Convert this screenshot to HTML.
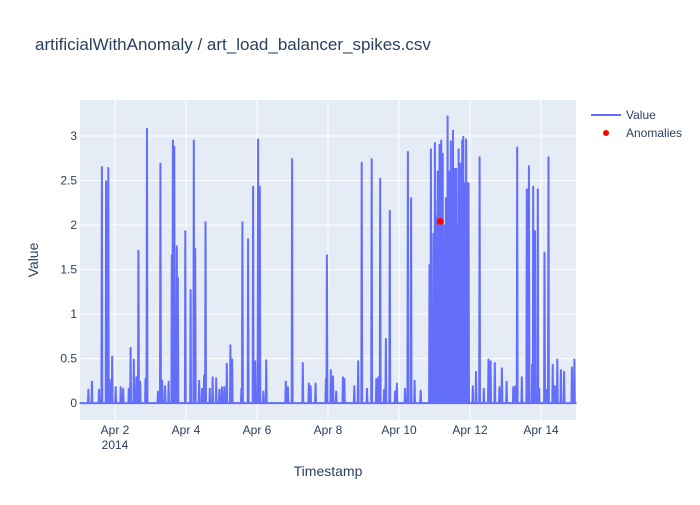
<!DOCTYPE html>
<html><head><meta charset="utf-8"><style>
body{margin:0;background:#fff;font-family:"Liberation Sans",Arial,sans-serif}
svg text{font-family:"Liberation Sans",Arial,sans-serif}
</style></head><body>
<svg id="chart" width="700" height="500" xmlns="http://www.w3.org/2000/svg">
<rect width="700" height="500" fill="#fff"/>
<text x="35" y="50" font-size="17" fill="#2a3f5f">artificialWithAnomaly / art_load_balancer_spikes.csv</text>
<rect x="80" y="100" width="496" height="320" fill="#e5ecf6"/>
<g id="grid"></g>
<g id="series"></g>
<g id="anom"></g>
<g id="ticks"></g>
<text x="328" y="476" font-size="14" fill="#2a3f5f" text-anchor="middle">Timestamp</text>
<text x="38" y="260" font-size="14" fill="#2a3f5f" text-anchor="middle" transform="rotate(-90 38 260)">Value</text>
<g>
<g><line x1="591" y1="115" x2="621" y2="115" stroke="#636efa" stroke-width="2"/><text x="626" y="119" font-size="12" fill="#2a3f5f">Value</text></g>
<g><circle cx="606" cy="133" r="3" fill="red"/><text x="626" y="137" font-size="12" fill="#2a3f5f">Anomalies</text></g>
</g>
</svg>
<script>
const spikeDays=[0.25,0.35,0.55,0.63,0.75,0.81,0.85,0.92,1.02,1.16,1.23,1.39,1.44,1.53,1.6,1.66,1.71,1.86,1.9,2.21,2.28,2.33,2.41,2.51,2.6,2.63,2.67,2.71,2.74,2.77,2.98,3.13,3.22,3.26,3.37,3.45,3.51,3.55,3.67,3.75,3.85,3.94,4.01,4.08,4.15,4.25,4.3,4.56,4.59,4.75,4.89,4.95,5.03,5.08,5.18,5.26,5.81,5.87,5.99,6.29,6.46,6.51,6.65,6.94,6.97,7.08,7.14,7.23,7.42,7.46,7.74,7.85,7.95,8.1,8.23,8.36,8.42,8.47,8.58,8.63,8.74,8.89,8.94,9.17,9.25,9.34,9.44,9.61,9.86,9.9,9.94,9.97,10.01,10.02,10.05,10.09,10.11,10.14,10.17,10.19,10.21,10.23,10.26,10.29,10.32,10.35,10.37,10.4,10.42,10.44,10.46,10.49,10.52,10.55,10.57,10.59,10.61,10.64,10.68,10.7,10.73,10.76,10.78,10.81,10.84,10.87,10.89,10.92,10.96,11.08,11.17,11.27,11.39,11.52,11.58,11.7,11.83,11.9,12.03,12.22,12.28,12.33,12.46,12.6,12.66,12.75,12.78,12.83,12.91,12.95,13.1,13.15,13.21,13.33,13.39,13.46,13.56,13.65,13.87,13.94];
const spikeVals=[0.15,0.24,0.15,2.65,2.49,2.64,0.26,0.52,0.18,0.18,0.16,0.16,0.62,0.49,0.29,1.71,0.24,0.27,3.08,0.13,2.69,0.25,0.19,0.24,1.66,2.95,2.88,0.26,1.76,1.41,1.93,1.27,2.95,1.73,0.25,0.16,0.31,2.03,0.16,0.29,0.28,0.15,0.18,0.18,0.44,0.65,0.49,0.16,2.03,1.84,2.43,0.47,2.96,2.43,0.13,0.48,0.24,0.18,2.74,0.45,0.22,0.19,0.22,0.27,1.66,0.37,0.3,0.13,0.29,0.27,0.19,0.47,2.7,0.16,2.74,0.27,0.29,2.52,0.15,0.72,2.16,0.13,0.22,0.16,2.82,2.3,0.25,0.14,1.55,2.85,0.15,1.9,2.92,2.28,2.1,2.6,1.8,2.9,2.2,2.95,1.7,2.8,2.0,0.15,2.3,1.9,3.22,2.1,2.6,2.4,2.94,2.2,3.06,2.5,2.63,2.3,2.63,2.0,2.85,2.4,2.69,2.2,2.95,2.99,2.47,2.3,2.96,2.47,2.47,0.19,0.35,2.76,0.16,0.49,0.47,0.45,0.18,0.39,0.24,0.18,0.19,2.87,0.29,2.4,2.66,0.43,2.43,1.93,2.4,0.16,1.69,0.15,2.76,0.43,0.19,0.49,0.37,0.35,0.4,0.49];
const anomDays=[10.16];
const anomVals=[2.04];
const yTicks=[0,0.5,1,1.5,2,2.5,3];
const yTickLabels=["0","0.5","1","1.5","2","2.5","3"];
const xTickDays=[1,3,5,7,9,11,13];
const xTickLabels=["Apr 2","Apr 4","Apr 6","Apr 8","Apr 10","Apr 12","Apr 14"];
const NS="http://www.w3.org/2000/svg";
const X0=80,X1=576,Y0=100,Y1=420,dMin=0.014,dMax=13.986,vMin=-0.19,vMax=3.404;
const sx=d=>X0+(d-dMin)/(dMax-dMin)*(X1-X0);
const sy=v=>Y1-(v-vMin)/(vMax-vMin)*(Y1-Y0);
const grid=document.getElementById('grid'),ticks=document.getElementById('ticks');
function mk(t,a,p){const e=document.createElementNS(NS,t);for(const k in a)e.setAttribute(k,a[k]);p.appendChild(e);return e;}
yTicks.forEach((v,i)=>{
 const l=mk('line',{x1:X0,x2:X1,y1:sy(v),y2:sy(v),stroke:'#fff','stroke-width':1},grid);
 
 
 const t=mk('text',{x:X0-3,y:sy(v)+4,'font-size':12,fill:'#2a3f5f','text-anchor':'end'},ticks);
 t.textContent=yTickLabels[i];
 
 
});
xTickDays.forEach((d,i)=>{
 const l=mk('line',{x1:sx(d),x2:sx(d),y1:Y0,y2:Y1,stroke:'#fff','stroke-width':1},grid);
 
 
 const t=mk('text',{x:sx(d),y:Y1+14,'font-size':12,fill:'#2a3f5f','text-anchor':'middle'},ticks);
 t.textContent=xTickLabels[i];
 
 
});
const yr=mk('text',{x:sx(1),y:Y1+29,'font-size':12,fill:'#2a3f5f','text-anchor':'middle'},ticks);
yr.textContent='2014';


let pts=[[0,0]];
spikeDays.forEach((d,i)=>{pts.push([d-0.012,0],[d,spikeVals[i]],[d+0.012,0]);});
pts.push([14,0]);
const line=mk('polyline',{points:pts.map(p=>sx(p[0]).toFixed(1)+','+sy(p[1]).toFixed(1)).join(' '),fill:'none',stroke:'#636efa','stroke-width':2,'stroke-linejoin':'round'},document.getElementById('series'));


anomDays.forEach((d,i)=>{
 const c=mk('circle',{cx:sx(d),cy:sy(anomVals[i]),r:3.5,fill:'red'},document.getElementById('anom'));
 
 
});
</script>
</body></html>
